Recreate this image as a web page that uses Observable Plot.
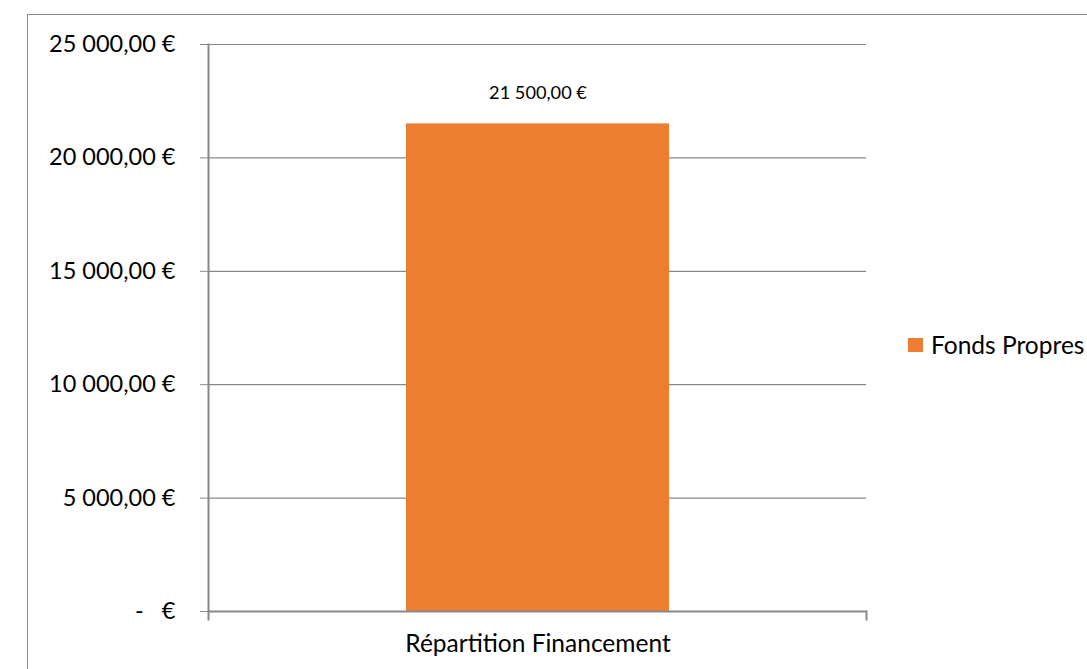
<!DOCTYPE html>
<html>
<head>
<meta charset="utf-8">
<script src="https://cdn.jsdelivr.net/npm/d3@7"></script>
<script src="https://cdn.jsdelivr.net/npm/@observablehq/plot@0.6"></script>
<style>
  html, body { margin: 0; padding: 0; background: #fff; overflow: hidden; }
  #wrap { position: relative; width: 1087px; height: 669px; overflow: hidden; }
  #border { position: absolute; left: 27px; top: 14px; width: 1200px; height: 800px; border: 1px solid #8a8a8a; box-sizing: border-box; }
  #chart { position: absolute; left: 0; top: 0; }
  #legend { position: absolute; left: 908px; top: 330px; font-family: Lato, sans-serif; font-size: 24.5px; color: #000; display: flex; align-items: center; white-space: nowrap; }
  #legend .sw { width: 15px; height: 14px; margin-right: 8px; }
</style>
</head>
<body>
<div id="wrap">
  <div id="border"></div>
  <div id="chart"></div>
  <div id="legend"></div>
</div>
<script>
// Data
const categories = ["Répartition Financement"];
const series = ["Fonds Propres"];
const values = [21500];
const yTicks = [0, 5000, 10000, 15000, 20000, 25000];
const colors = ["#ED7D31"];

const fr = d3.formatLocale({decimal: ",", thousands: "\u00a0", grouping: [3], currency: ["", "\u00a0€"]});
const num = fr.format(",.2f");
const euro = d => d === 0 ? "-\u00a0\u00a0\u00a0€" : num(d) + "\u00a0€";

const data = categories.map((c, i) => ({cat: c, series: series[i], value: values[i]}));

const chart = Plot.plot({
  width: 1087,
  height: 669,
  marginLeft: 208,
  marginRight: 221,
  marginTop: 44,
  marginBottom: 58,
  style: {fontFamily: "Lato, sans-serif", fontSize: "23.5px", color: "#000", background: "transparent"},
  x: {domain: categories, padding: 3 / 7, label: null},
  y: {domain: [0, 25000], label: null},
  marks: [
    Plot.ruleY(yTicks, {stroke: "#888888", strokeWidth: 1.2}),
    Plot.barY(data, {x: "cat", y: "value", fill: (d, i) => colors[i]}),
    Plot.ruleY([0], {stroke: "#888888", strokeWidth: 2}),
    Plot.frame({anchor: "left", stroke: "#888888", strokeWidth: 2, insetBottom: -8}),
    Plot.frame({anchor: "right", stroke: "#888888", strokeWidth: 2, insetTop: 567, insetBottom: -8}),
    Plot.axisY({ticks: yTicks, tickSize: 8, tickPadding: 25, tickFormat: euro, stroke: "#888888", fill: "#000", fontSize: 23.5}),
    Plot.axisX({tickSize: 0, tickPadding: 23, fill: "#000", fontSize: 24.5}),
    Plot.text(data, {x: "cat", y: "value", text: d => euro(d.value), dy: -31, fontSize: 18.2, fill: "#000"})
  ]
});
document.getElementById("chart").appendChild(chart);

const legend = document.getElementById("legend");
series.forEach((s, i) => {
  const sw = document.createElement("span");
  sw.className = "sw";
  sw.style.background = colors[i];
  const t = document.createElement("span");
  t.textContent = s;
  legend.appendChild(sw);
  legend.appendChild(t);
});
</script>
</body>
</html>
